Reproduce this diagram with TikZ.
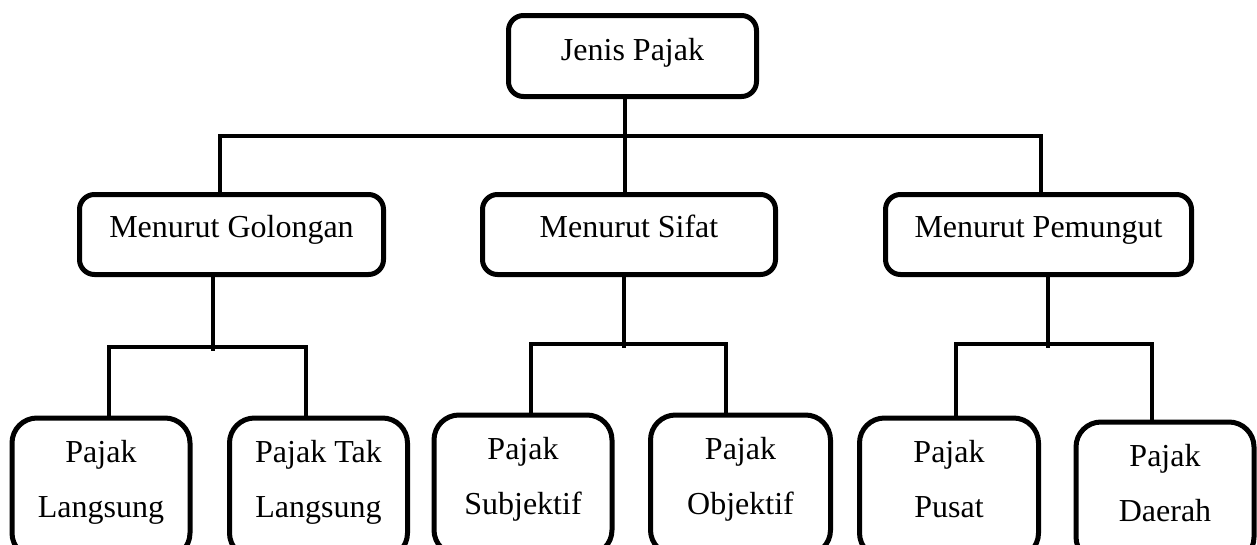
\documentclass[tikz,border=0pt]{standalone}
\usepackage{fontspec}
\setmainfont{Liberation Serif}
\newcommand\leaftext[2]{\parbox[t]{170pt}{\centering\fontsize{32}{55}\selectfont #1\\#2}}
\tikzset{
  box/.style={draw, line width=5pt, rounded corners=15pt, inner sep=0pt, font=\fontsize{32}{38}\selectfont},
  topbox/.style={box, minimum width=248pt, minimum height=81pt, text height=22pt, text depth=14pt},
  midbox/.style={box, minimum height=80pt, text height=22pt, text depth=17pt},
  leafbox/.style={box, rounded corners=25pt, anchor=north, minimum width=178pt, minimum height=140pt, text height=30pt, text depth=81pt},
  conn/.style={line width=4pt},
}
\begin{document}
\begin{tikzpicture}[x=1pt,y=-1pt]
\useasboundingbox (0,0) rectangle (1257,544);
\clip (0,0) rectangle (1257,544);
% level 0
\node[topbox] (jenis) at (632.5,56) {Jenis Pajak};
% level 1
\node[midbox, minimum width=304pt] (golongan) at (231.5,234.5) {Menurut Golongan};
\node[midbox, minimum width=293pt] (sifat) at (629,234.5) {Menurut Sifat};
\node[midbox, minimum width=306pt] (pemungut) at (1038.5,234.5) {Menurut Pemungut};
% level 2
\node[leafbox] (langsung) at (101,415.5) {\leaftext{Pajak}{Langsung}};
\node[leafbox] (taklangsung) at (318.5,415.5) {\leaftext{Pajak Tak}{Langsung}};
\node[leafbox] (subjektif) at (523,412.5) {\leaftext{Pajak}{Subjektif}};
\node[leafbox, minimum width=180pt] (objektif) at (740.5,412.5) {\leaftext{Pajak}{Objektif}};
\node[leafbox, minimum width=179pt] (pusat) at (949,415.5) {\leaftext{Pajak}{Pusat}};
\node[leafbox] (daerah) at (1165,419.5) {\leaftext{Pajak}{Daerah}};
% junction coordinates
\coordinate (t0) at (625,136);
\coordinate (bL) at (220,136);
\coordinate (bR) at (1041,136);
\coordinate (g0) at (213,347);
\coordinate (gL) at (109,347);
\coordinate (gR) at (306,347);
\coordinate (s0) at (624,344);
\coordinate (sL) at (531,344);
\coordinate (sR) at (726,344);
\coordinate (p0) at (1048,344);
\coordinate (pL) at (956,344);
\coordinate (pR) at (1152,344);
% connectors level 0 -> 1
\draw[conn] (jenis.south -| t0) -- (sifat.north -| t0);
\draw[conn] (golongan.north -| bL) -- (bL) -- (bR) -- (pemungut.north -| bR);
% connectors level 1 -> 2
\draw[conn, shorten >=-4pt] (golongan.south -| g0) -- (g0);
\draw[conn] (langsung.north -| gL) -- (gL) -- (gR) -- (taklangsung.north -| gR);
\draw[conn, shorten >=-4pt] (sifat.south -| s0) -- (s0);
\draw[conn] (subjektif.north -| sL) -- (sL) -- (sR) -- (objektif.north -| sR);
\draw[conn, shorten >=-4pt] (pemungut.south -| p0) -- (p0);
\draw[conn] (pusat.north -| pL) -- (pL) -- (pR) -- (daerah.north -| pR);
\end{tikzpicture}
\end{document}
